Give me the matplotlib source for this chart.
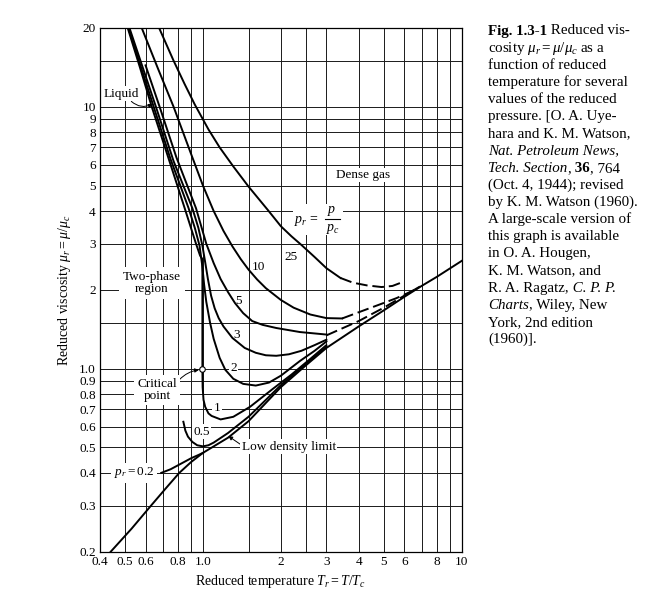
import matplotlib
matplotlib.use('Agg')
import matplotlib.pyplot as plt
from matplotlib.ticker import FixedLocator, NullFormatter
from matplotlib.lines import Line2D
from matplotlib.patches import Rectangle
from matplotlib.transforms import IdentityTransform

plt.rcParams['font.family'] = ['Liberation Serif', 'DejaVu Serif']
plt.rcParams['mathtext.fontset'] = 'custom'
plt.rcParams['mathtext.rm'] = 'Liberation Serif'
plt.rcParams['mathtext.it'] = 'Liberation Serif:italic'
plt.rcParams['mathtext.bf'] = 'Liberation Serif:bold'

# ---- data (T_r, mu_r) ----
ld_T = [0.44, 0.53, 0.63, 0.72, 0.81, 0.9, 1.0, 1.25, 1.5, 2.0, 2.5, 3.0, 4.0, 5.0, 6.0, 7.0, 8.0, 10.0]
ld_mu = [0.20, 0.245, 0.30, 0.35, 0.40, 0.44, 0.477, 0.545, 0.63, 0.85, 1.03, 1.2, 1.45, 1.67, 1.88, 2.07, 2.24, 2.58]

p02_T = [0.69, 0.75, 0.82, 0.9, 0.96, 1.0]
p02_mu = [0.40, 0.413, 0.433, 0.455, 0.468, 0.477]

p05_T = [0.84, 0.855, 0.875, 0.91, 0.95, 1.0, 1.05, 1.1, 1.25, 1.5, 2.0, 2.5, 3.0]
p05_mu = [0.627, 0.58, 0.55, 0.525, 0.51, 0.505, 0.51, 0.522, 0.568, 0.655, 0.865, 1.045, 1.21]

p1_T = [0.512, 0.57, 0.634, 0.72, 0.85, 0.94, 0.975, 0.995, 0.995, 0.997, 1.005, 1.02, 1.05, 1.08,
        1.17, 1.31, 1.52, 1.87, 2.2, 2.6, 3.0]
p1_mu = [20, 14.2, 10, 6.8, 4.1, 3.0, 2.7, 2.62, 1.0, 0.85, 0.76, 0.715, 0.675, 0.66,
         0.64, 0.655, 0.715, 0.84, 0.95, 1.09, 1.23]

p2_T = [0.515, 0.645, 0.75, 0.88, 0.93, 0.97, 0.995, 1.01, 1.03, 1.065, 1.1, 1.16, 1.22, 1.31,
        1.43, 1.6, 1.8, 2.0, 2.37, 2.7, 3.0]
p2_mu = [20, 10, 6.3, 4.1, 3.45, 2.95, 2.45, 2.1, 1.8, 1.5, 1.3, 1.1, 0.99, 0.915,
         0.875, 0.862, 0.885, 0.94, 1.07, 1.17, 1.27]

p3_T = [0.52, 0.658, 0.77, 0.91, 0.96, 0.995, 1.02, 1.045, 1.075, 1.11, 1.15, 1.2, 1.3, 1.45,
        1.6, 1.75, 1.92, 2.15, 2.4, 2.7, 3.0]
p3_mu = [20, 10, 6.2, 4.1, 3.45, 2.95, 2.55, 2.2, 1.9, 1.7, 1.56, 1.45, 1.31, 1.2,
         1.15, 1.125, 1.12, 1.135, 1.17, 1.23, 1.29]

p5_T = [0.60, 0.68, 0.79, 0.94, 1.03, 1.1, 1.17, 1.25, 1.33, 1.43, 1.55, 1.7, 1.92, 2.37, 3.0]
p5_mu = [14.4, 10, 6.4, 4.1, 3.0, 2.53, 2.2, 1.96, 1.78, 1.63, 1.52, 1.47, 1.43, 1.38, 1.35]
p5d_T = [3.0, 4.0, 5.0, 6.0, 6.9]
p5d_mu = [1.34, 1.52, 1.71, 1.9, 2.06]

p10_T = [0.58, 0.67, 0.77, 0.9, 1.0, 1.1, 1.2, 1.3, 1.4, 1.5, 1.62, 1.75, 2.0, 2.24, 2.6, 3.0, 3.45]
p10_mu = [20, 14, 10, 6.6, 5.0, 4.0, 3.36, 2.93, 2.62, 2.39, 2.19, 2.03, 1.83, 1.71, 1.61, 1.56, 1.555]
p10d_T = [3.45, 4.05, 4.83, 5.6, 6.3, 6.8]
p10d_mu = [1.555, 1.65, 1.76, 1.86, 1.96, 2.04]

p25_T = [0.677, 0.77, 0.85, 0.93, 1.05, 1.16, 1.31, 1.5, 1.78, 2.0, 2.2, 2.4, 2.7, 3.0, 3.4]
p25_mu = [20, 15, 12.2, 10.2, 8.2, 7.0, 5.92, 4.96, 4.04, 3.5, 3.2, 2.97, 2.67, 2.42, 2.22]
p25d_T = [3.4, 3.8, 4.3, 4.9, 5.4, 5.9]
p25d_mu = [2.22, 2.13, 2.08, 2.05, 2.07, 2.14]

crit_T, crit_mu = 0.995, 1.0

x_major = [0.4, 0.5, 0.6, 0.8, 1.0, 2, 3, 4, 5, 6, 8, 10]
x_major_lab = ['0.4', '0.5', '0.6', '0.8', '1.0', '2', '3', '4', '5', '6', '8', '10']
x_minor = [0.7, 0.9, 1.5, 2.5, 7, 9]
y_major = [0.2, 0.3, 0.4, 0.5, 0.6, 0.7, 0.8, 0.9, 1.0, 2, 3, 4, 5, 6, 7, 8, 9, 10, 20]
y_major_lab = ['0.2', '0.3', '0.4', '0.5', '0.6', '0.7', '0.8', '0.9', '1.0',
               '2', '3', '4', '5', '6', '7', '8', '9', '10', '20']
y_minor = [1.5, 15]

# curve labels: (text, T, mu)
curve_labels = [('25', 2.18, 2.67), ('10', 1.64, 2.44), ('5', 1.37, 1.82), ('3', 1.35, 1.35),
                ('2', 1.31, 1.01), ('1', 1.13, 0.71), ('0.5', 0.985, 0.574)]

caption = [
    [("Fig. 1.3-1", 'bold'), (" Reduced vis-", 'normal')],
    [(r"cosity $\mu_r = \mu/\mu_c$ as a", 'normal')],
    [("function of reduced", 'normal')],
    [("temperature for several", 'normal')],
    [("values of the reduced", 'normal')],
    [("pressure. [O. A. Uye-", 'normal')],
    [("hara and K. M. Watson,", 'normal')],
    [("Nat. Petroleum News,", 'italic')],
    [("Tech. Section", 'italic'), (",", 'normal'), (" 36", 'bold'), (", 764", 'normal')],
    [("(Oct. 4, 1944); revised", 'normal')],
    [("by K. M. Watson (1960).", 'normal')],
    [("A large-scale version of", 'normal')],
    [("this graph is available", 'normal')],
    [("in O. A. Hougen,", 'normal')],
    [("K. M. Watson, and", 'normal')],
    [("R. A. Ragatz,", 'normal'), (" C. P. P.", 'italic')],
    [("Charts", 'italic'), (", Wiley, New", 'normal')],
    [("York, 2nd edition", 'normal')],
    [("(1960)].", 'normal')],
]

W, H = 656, 595
fig = plt.figure(figsize=(W / 100, H / 100), dpi=100)
ax = fig.add_axes([100 / W, 1 - 551.7 / H, 361.7 / W, 523.7 / H])
ax.set_xscale('log')
ax.set_yscale('log')
ax.set_xlim(0.4, 10)
ax.set_ylim(0.2, 20)

ax.set_xticks(x_major, x_major_lab)
ax.set_yticks(y_major, y_major_lab)
ax.xaxis.set_minor_locator(FixedLocator(x_minor))
ax.yaxis.set_minor_locator(FixedLocator(y_minor))
ax.xaxis.set_minor_formatter(NullFormatter())
ax.yaxis.set_minor_formatter(NullFormatter())
ax.tick_params(which='both', length=0, labelsize=9.5, pad=3)
ax.grid(which='both', color='#1a1a1a', lw=0.7)
ax.set_axisbelow(True)
for s in ax.spines.values():
    s.set_linewidth(0.9)

lw = 1.4
solid = [(ld_T, ld_mu), (p02_T, p02_mu), (p05_T, p05_mu), (p1_T, p1_mu), (p2_T, p2_mu),
         (p3_T, p3_mu), (p5_T, p5_mu), (p10_T, p10_mu), (p25_T, p25_mu)]
for t, m in solid:
    ax.plot(t, m, color='black', lw=lw, zorder=4, solid_joinstyle='round')
for t, m in [(p5d_T, p5d_mu), (p10d_T, p10d_mu), (p25d_T, p25d_mu)]:
    ax.plot(t, m, color='black', lw=lw, ls=(0, (6, 2.5)), zorder=4)

ax.plot([crit_T], [crit_mu], 'o', ms=4, mfc='white', mec='black', mew=0.8, zorder=6)

box = dict(facecolor='white', edgecolor='none', pad=1.0)
fs = 9.5
for s, t, m in curve_labels:
    ax.text(t, m, s, ha='center', va='center', fontsize=fs, bbox=box, zorder=3)

ax.text(0.635, 2.12, 'Two-phase\nregion', ha='center', va='center', fontsize=fs,
        linespacing=1.0, bbox=dict(facecolor='white', edgecolor='none', pad=3), zorder=3)
ax.text(4.16, 5.49, 'Dense gas', ha='center', va='center', fontsize=fs, bbox=box, zorder=3)

# p_r = p / p_c, stacked fraction built around one anchor point (pixel offsets)
pr_anchor = (2.69, 3.69)
xa, ya = ax.transData.transform(pr_anchor)
ax.add_patch(Rectangle((xa - 21, ya - 15), 50, 31, facecolor='white', edgecolor='none',
                       zorder=2, transform=IdentityTransform()))
for s, dx, dy in [(r'$p_r\,=$', -8, -1), (r'$p$', 18, 9), (r'$p_c$', 19, -9)]:
    ax.annotate(s, xy=pr_anchor, xytext=(dx, dy), textcoords='offset pixels',
                ha='center', va='center', fontsize=fs + 0.5, zorder=3)
ax.add_line(Line2D([xa + 11, xa + 26], [ya + 1, ya + 1], color='black', lw=0.8, zorder=3,
                   transform=IdentityTransform()))

ax.text(0.541, 0.4, r'$p_r = 0.2$', ha='center', va='center', fontsize=fs,
        bbox=dict(facecolor='white', edgecolor='none', pad=2), zorder=3)

ax.annotate('Liquid', xy=(0.639, 10.24), xytext=(0.482, 11.2), ha='center', va='center',
            fontsize=fs, bbox=box, zorder=3,
            arrowprops=dict(arrowstyle='-|>', mutation_scale=6, lw=0.7, color='black',
                            connectionstyle='arc3,rad=0.35', shrinkA=0, shrinkB=0,
                            relpos=(0.75, 0.0)))
ax.annotate('Critical\npoint', xy=(0.965, 0.99), xytext=(0.664, 0.829), ha='center',
            va='center', fontsize=fs, linespacing=1.05, zorder=3,
            bbox=dict(facecolor='white', edgecolor='none', pad=2),
            arrowprops=dict(arrowstyle='-|>', mutation_scale=6, lw=0.7, color='black',
                            connectionstyle='arc3,rad=-0.2', shrinkA=0, shrinkB=0,
                            relpos=(1.0, 0.8)))
ax.annotate('Low density limit', xy=(1.253, 0.553), xytext=(2.15, 0.504), ha='center',
            va='center', fontsize=fs, bbox=box, zorder=3,
            arrowprops=dict(arrowstyle='-|>', mutation_scale=6, lw=0.7, color='black',
                            shrinkA=0, shrinkB=0, relpos=(0.0, 0.6)))

ax.set_xlabel(r'Reduced temperature $T_r = T/T_c$', fontsize=10, labelpad=4)
ax.set_ylabel(r'Reduced viscosity $\mu_r = \mu/\mu_c$', fontsize=10)
ax.yaxis.set_label_coords(-0.075, 0.5)

# caption column on the right, one line at a time with mixed styles
renderer = fig.canvas.get_renderer()
x0 = 488
for i, pieces in enumerate(caption):
    y = 34.5 + 17.15 * i
    x = x0
    for s, style in pieces:
        kw = dict(fontsize=10.8, va='baseline', ha='left')
        if style == 'bold':
            kw['fontweight'] = 'bold'
        elif style == 'italic':
            kw['fontstyle'] = 'italic'
        t = fig.text(x / W, 1 - y / H, s, **kw)
        x += t.get_window_extent(renderer).width

fig.savefig('out.png', dpi=100)
